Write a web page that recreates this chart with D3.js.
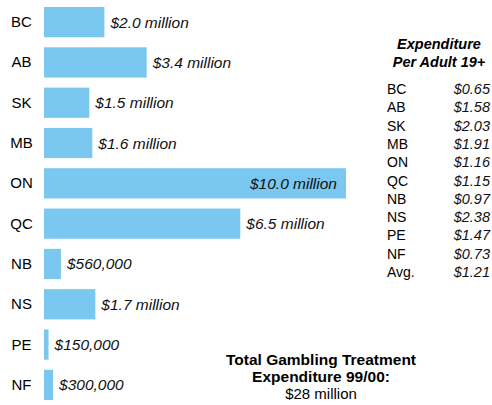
<!DOCTYPE html>
<html>
<head>
<meta charset="utf-8">
<script src="https://cdn.jsdelivr.net/npm/d3@7"></script>
<style>
  body { margin: 0; background: #fff; }
  svg text { font-family: "Liberation Sans", Arial, sans-serif; }
</style>
</head>
<body>
<div id="chart"></div>
<script>
// provinces and treatment spending (millions of dollars)
var provinces = ["BC", "AB", "SK", "MB", "ON", "QC", "NB", "NS", "PE", "NF"];
var spending = [2.0, 3.4, 1.5, 1.6, 10.0, 6.5, 0.56, 1.7, 0.15, 0.30];
var spendingLabels = ["$2.0 million", "$3.4 million", "$1.5 million", "$1.6 million",
  "$10.0 million", "$6.5 million", "$560,000", "$1.7 million", "$150,000", "$300,000"];

// per adult table
var perAdultRows = ["BC", "AB", "SK", "MB", "ON", "QC", "NB", "NS", "PE", "NF", "Avg."];
var perAdultValues = ["$0.65", "$1.58", "$2.03", "$1.91", "$1.16", "$1.15", "$0.97", "$2.38", "$1.47", "$0.73", "$1.21"];

var svgWidth = 492, svgHeight = 405;

var svg = d3.select("#chart")
  .append("svg")
  .attr("width", svgWidth)
  .attr("height", svgHeight);

var data = provinces.map(function(p, i) {
  return { prov: p, value: spending[i], label: spendingLabels[i] };
});

// scales
var xScale = d3.scaleLinear()
  .domain([0, 10])
  .range([44, 346]);

var yScale = d3.scaleBand()
  .domain(provinces)
  .range([7, 400])
  .paddingInner(0.25)
  .paddingOuter(0);

// bars
svg.selectAll("rect.bar")
  .data(data)
  .enter()
  .append("rect")
  .attr("class", "bar")
  .attr("x", xScale(0))
  .attr("y", d => yScale(d.prov))
  .attr("width", d => xScale(d.value) - xScale(0))
  .attr("height", yScale.bandwidth())
  .attr("fill", "#7ac7f0");

// province labels
svg.selectAll("text.prov")
  .data(data)
  .enter()
  .append("text")
  .attr("class", "prov")
  .attr("x", 21.5)
  .attr("y", d => yScale(d.prov) + yScale.bandwidth() / 2 + 5)
  .attr("text-anchor", "middle")
  .style("font-size", "15px")
  .style("fill", "#000")
  .text(d => d.prov);

// value labels, inside the bar when it is long
svg.selectAll("text.val")
  .data(data)
  .enter()
  .append("text")
  .attr("class", "val")
  .attr("x", d => xScale(d.value) > 300 ? xScale(d.value) - 9 : xScale(d.value) + 6)
  .attr("y", d => yScale(d.prov) + yScale.bandwidth() / 2 + 5.5)
  .attr("text-anchor", d => xScale(d.value) > 300 ? "end" : "start")
  .style("font-size", "15.5px")
  .style("font-style", "italic")
  .style("fill", "#111")
  .text(d => d.label);

// per adult table
var table = svg.append("g");

table.append("text")
  .attr("x", 439)
  .attr("y", 49)
  .attr("text-anchor", "middle")
  .style("font-size", "14.5px")
  .style("font-weight", "bold")
  .style("font-style", "italic")
  .text("Expenditure");

table.append("text")
  .attr("x", 439)
  .attr("y", 67)
  .attr("text-anchor", "middle")
  .style("font-size", "14.5px")
  .style("font-weight", "bold")
  .style("font-style", "italic")
  .text("Per Adult 19+");

var rowScale = d3.scaleBand()
  .domain(perAdultRows)
  .range([80, 281]);

table.selectAll("text.rowlab")
  .data(perAdultRows)
  .enter()
  .append("text")
  .attr("class", "rowlab")
  .attr("x", 387)
  .attr("y", d => rowScale(d) + rowScale.bandwidth() / 2 + 5)
  .style("font-size", "14px")
  .text(d => d);

table.selectAll("text.rowval")
  .data(perAdultValues)
  .enter()
  .append("text")
  .attr("class", "rowval")
  .attr("x", 490)
  .attr("y", (d, i) => rowScale(perAdultRows[i]) + rowScale.bandwidth() / 2 + 5)
  .attr("text-anchor", "end")
  .style("font-size", "14.5px")
  .style("font-style", "italic")
  .style("fill", "#111")
  .text(d => d);

// total note
var note = svg.append("g").attr("transform", "translate(321, 0)");

note.append("text")
  .attr("y", 365)
  .attr("text-anchor", "middle")
  .style("font-size", "15.5px")
  .style("font-weight", "bold")
  .text("Total Gambling Treatment");

note.append("text")
  .attr("y", 382)
  .attr("text-anchor", "middle")
  .style("font-size", "15.5px")
  .style("font-weight", "bold")
  .text("Expenditure 99/00:");

note.append("text")
  .attr("y", 398.5)
  .attr("text-anchor", "middle")
  .style("font-size", "15px")
  .text("$28 million");
</script>
</body>
</html>
